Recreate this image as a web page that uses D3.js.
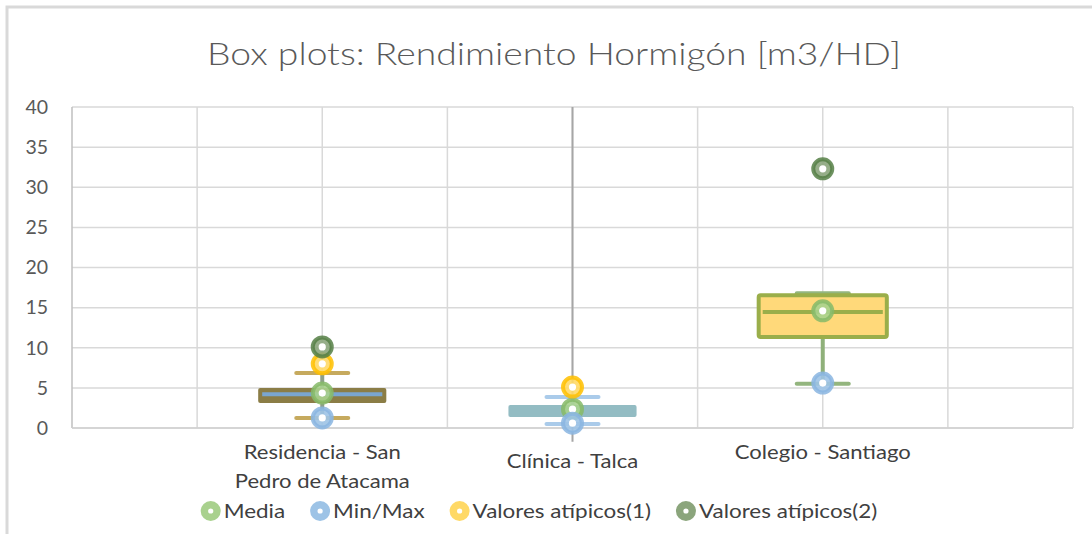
<!DOCTYPE html>
<html>
<head>
<meta charset="utf-8">
<script src="https://cdn.jsdelivr.net/npm/d3@7"></script>
<style>
  body { margin: 0; background: #fff; }
  svg { display: block; font-family: Lato, "Open Sans", sans-serif; }
</style>
</head>
<body>
<div id="chart"></div>
<script>
// data
const categories = ["Residencia - San|Pedro de Atacama", "Clínica - Talca", "Colegio - Santiago"];
const xPos = [1, 2, 3];
const q1 = [3.1, 1.37, 11.35];
const median = [4.2, 2.1, 14.45];
const q3 = [4.98, 2.87, 16.55];
const whiskerLow = [1.25, 0.5, 5.5];
const whiskerHigh = [6.85, 3.86, 16.8];
const media = [4.35, 2.35, 14.6];
const minMax = [1.25, 0.6, 5.6];
const outliers1 = [8.0, 5.1, null];
const outliers2 = [10.1, null, 32.3];
const greyRange = [null, [-1.7, 40], null];
const yTicks = [0, 5, 10, 15, 20, 25, 30, 35, 40];
const legendLabels = ["Media", "Min/Max", "Valores atípicos(1)", "Valores atípicos(2)"];

// styles per category
const boxStyle = [
  { fill: "#8b7d46", stroke: "none", med: "#7aa6d0", cap: "#c6aa5e", whisk: "#8ea08a" },
  { fill: "#93bcc3", stroke: "none", med: "#93bcc3", cap: "#aacbea", whisk: "#aacbea" },
  { fill: "#ffd97a", stroke: "#9aae4a", med: "#9aae4a", cap: "#93b57e", whisk: "#8fb07a" }
];
const markerStyle = {
  media: { fill: "#a9d18e", ring: "#86ba68" },
  minmax: { fill: "#9dc3e6", ring: "#8ab5e0" },
  out1: { fill: "#ffd966", ring: "#ffc000" },
  out2: { fill: "#8ba57c", ring: "#557f45" }
};
const stretch = 1.2; // the reference font is wider than Lato

const width = 1092, height = 534;
const marginLeft = 72, marginRight = 19, marginTop = 107, marginBottom = 106;

const svg = d3.select("#chart").append("svg")
  .attr("width", width).attr("height", height)
  .attr("viewBox", [0, 0, width, height]);

// outer chart frame
svg.append("rect")
  .attr("x", 7).attr("y", 7).attr("width", 1200).attr("height", 800)
  .attr("fill", "#fff").attr("stroke", "#d9d9d9").attr("stroke-width", 3);

const x = d3.scaleLinear().domain([0, 4]).range([marginLeft, width - marginRight]);
const y = d3.scaleLinear().domain([0, 40]).range([height - marginBottom, marginTop]);

// stretched text helper, anchored at (tx, ty)
function wideText(parent, tx, ty, str, size, fill, anchor, weight, k) {
  return parent.append("text")
    .attr("transform", `translate(${tx},${ty}) scale(${k || stretch},1)`)
    .attr("text-anchor", anchor || "middle")
    .attr("font-size", size)
    .attr("font-weight", weight || 400)
    .attr("fill", fill)
    .text(str);
}

// title
wideText(svg, 554, 65, "Box plots: Rendimiento Hormigón [m3/HD]", 32, "#595959", "middle", 300, 1.165);

// gridlines
svg.append("g")
  .selectAll("line")
  .data(yTicks)
  .join("line")
  .attr("x1", x(0)).attr("x2", x(4))
  .attr("y1", (d) => y(d)).attr("y2", (d) => y(d))
  .attr("stroke", "#d9d9d9").attr("stroke-width", 1.5);

svg.append("g")
  .selectAll("line")
  .data(d3.range(0.5, 4.01, 0.5))
  .join("line")
  .attr("x1", (d) => x(d)).attr("x2", (d) => x(d))
  .attr("y1", y(0)).attr("y2", y(40))
  .attr("stroke", "#d9d9d9").attr("stroke-width", 1.5);

// axis lines
svg.append("line")
  .attr("x1", x(0)).attr("x2", x(0)).attr("y1", y(0)).attr("y2", y(40))
  .attr("stroke", "#bfbfbf").attr("stroke-width", 1.5);
svg.append("line")
  .attr("x1", x(0)).attr("x2", x(4)).attr("y1", y(0)).attr("y2", y(0))
  .attr("stroke", "#d0d0d0").attr("stroke-width", 1.5);

// y tick labels
const yAxis = svg.append("g")
  .attr("transform", `translate(${48},0)`)
  .call(d3.axisLeft(y).tickValues(yTicks).tickSize(0).tickPadding(0));
yAxis.select(".domain").remove();
yAxis.selectAll("text")
  .attr("font-family", "Lato, sans-serif")
  .attr("font-size", 19.5).attr("fill", "#595959");

// category labels
categories.forEach((c, i) => {
  const lines = c.split("|");
  const y0 = lines.length > 1 ? 459 : (i === 1 ? 468 : 459);
  lines.forEach((l, j) => {
    wideText(svg, x(xPos[i]), y0 + j * 29, l, 18.7, "#404040", "middle", 400, 1.18);
  });
});

const boxHalf = 0.256, capHalf = 0.104;

// grey range line (Clínica)
greyRange.forEach((r, i) => {
  if (!r) return;
  svg.append("line")
    .attr("x1", x(xPos[i])).attr("x2", x(xPos[i]))
    .attr("y1", y(r[0])).attr("y2", y(r[1]))
    .attr("stroke", "#a6a6a6").attr("stroke-width", 2);
});

// whiskers
const g = svg.append("g");
xPos.forEach((p, i) => {
  const s = boxStyle[i];
  g.append("line")
    .attr("x1", x(p)).attr("x2", x(p))
    .attr("y1", y(whiskerLow[i])).attr("y2", y(q1[i]))
    .attr("stroke", s.whisk).attr("stroke-width", 4);
  g.append("line")
    .attr("x1", x(p)).attr("x2", x(p))
    .attr("y1", y(whiskerHigh[i])).attr("y2", y(q3[i]))
    .attr("stroke", s.whisk).attr("stroke-width", 4);
  [whiskerLow[i], whiskerHigh[i]].forEach((v) => {
    g.append("line")
      .attr("x1", x(p - capHalf)).attr("x2", x(p + capHalf))
      .attr("y1", y(v)).attr("y2", y(v))
      .attr("stroke", s.cap).attr("stroke-width", 4)
      .attr("stroke-linecap", "round");
  });
});

// boxes
xPos.forEach((p, i) => {
  const s = boxStyle[i];
  g.append("rect")
    .attr("x", x(p - boxHalf)).attr("width", x(p + boxHalf) - x(p - boxHalf))
    .attr("y", y(q3[i])).attr("height", y(q1[i]) - y(q3[i]))
    .attr("rx", 2)
    .attr("fill", s.fill)
    .attr("stroke", s.stroke).attr("stroke-width", 4);
  g.append("line")
    .attr("x1", x(p - boxHalf) + 4).attr("x2", x(p + boxHalf) - 4)
    .attr("y1", y(median[i])).attr("y2", y(median[i]))
    .attr("stroke", s.med).attr("stroke-width", 4);
});

// markers
function marker(sel, cx, cy, st) {
  sel.append("circle")
    .attr("cx", cx).attr("cy", cy).attr("r", 9.5)
    .attr("fill", st.fill).attr("fill-opacity", 0.9)
    .attr("stroke", st.ring).attr("stroke-width", 4).attr("stroke-opacity", 0.85);
  sel.append("circle")
    .attr("cx", cx).attr("cy", cy).attr("r", 3.6)
    .attr("fill", "#fff");
}
const series = [
  [media, markerStyle.media],
  [minMax, markerStyle.minmax],
  [outliers1, markerStyle.out1],
  [outliers2, markerStyle.out2]
];
const mg = svg.append("g");
series.forEach(([vals, st]) => {
  vals.forEach((v, i) => {
    if (v == null) return;
    marker(mg, x(xPos[i]), y(v), st);
  });
});

// legend
const legendStyles = [markerStyle.media, markerStyle.minmax, markerStyle.out1, markerStyle.out2];
const lg = svg.append("g");
let cursor = 0;
const items = [];
legendLabels.forEach((l, i) => {
  const t = wideText(lg, 0, 518, l, 18.7, "#404040", "start");
  const w = t.node().getComputedTextLength() * stretch;
  items.push({ t, start: cursor });
  cursor += 13 + w + 35;
});
const total = cursor - 35 + 10;
const offset = 539 - total / 2 + 10;
items.forEach((it, i) => {
  const cx = offset + it.start;
  lg.append("circle")
    .attr("cx", cx).attr("cy", 511).attr("r", 10)
    .attr("fill", legendStyles[i].fill);
  lg.append("circle")
    .attr("cx", cx).attr("cy", 511).attr("r", 2.6).attr("fill", "#fff");
  it.t.attr("transform", `translate(${cx + 13},518) scale(${stretch},1)`);
});
</script>
</body>
</html>
